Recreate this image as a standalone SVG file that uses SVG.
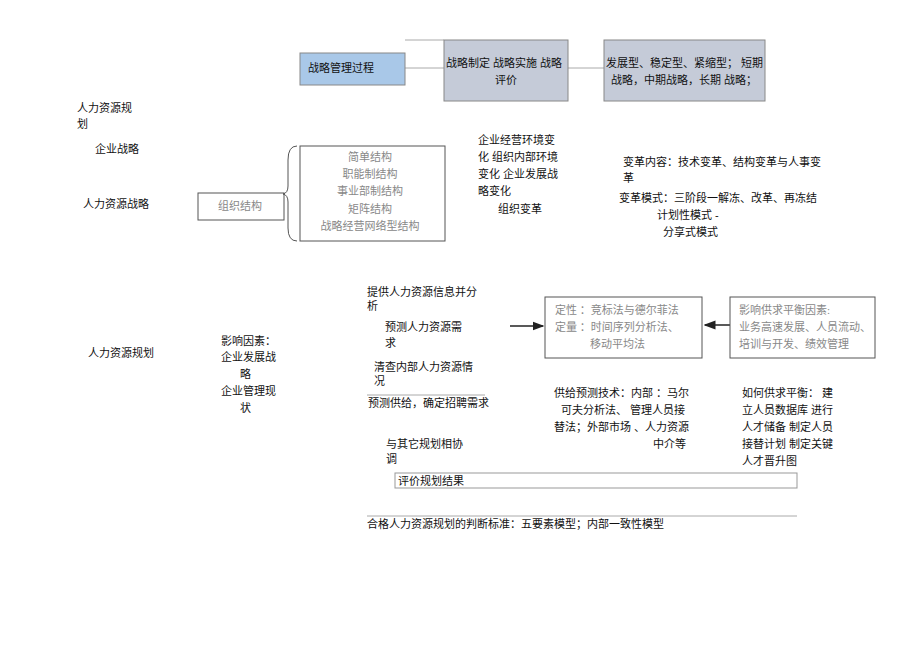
<svg xmlns="http://www.w3.org/2000/svg" width="920" height="650" viewBox="0 0 920 650">
<style>
text{font-family:"Liberation Sans","Noto Sans CJK SC",sans-serif;font-size:11px;fill:#111}
.s{font-family:"Liberation Serif","Noto Sans CJK SC",serif;fill:#888}
.b{fill:none;stroke:#555;stroke-width:1}
.ln{stroke:#aaa;stroke-width:1;fill:none}
</style>
<defs><marker id="ah" markerWidth="8" markerHeight="8" refX="7" refY="4" orient="auto"><path d="M0,1 L8,4 L0,7Z" fill="#222"/></marker></defs>
<rect width="920" height="650" fill="#fff"/>
<g id="connectors">
<line class="ln" x1="405" y1="40" x2="444" y2="40"/>
<line class="ln" x1="405" y1="68" x2="444" y2="68" stroke-width="2"/>
<line class="ln" x1="568" y1="68" x2="604" y2="68" stroke-width="2"/>
<path d="M297,146 Q288,146 288,160 L288,186 Q288,193 283,194 Q288,195 288,202 L288,228 Q288,241 297,241" class="b" stroke="#666"/>
<line x1="510" y1="326" x2="543" y2="326" stroke="#222" stroke-width="1.5" marker-end="url(#ah)"/>
<line x1="730" y1="325" x2="705" y2="325" stroke="#222" stroke-width="1.5" marker-end="url(#ah)"/>
<line class="ln" x1="367" y1="395" x2="485" y2="395"/>
<line class="ln" x1="367" y1="516" x2="797" y2="516"/>
</g>
<g id="n1"><rect x="300" y="53" width="105" height="32" fill="#a9c8e8" stroke="#888"/><text x="308" y="72">战略管理过程</text></g>
<g id="n2"><rect x="444" y="40" width="124" height="61" fill="#c5cbd8" stroke="#888"/><text x="446" y="67">战略制定 战略实施 战略</text><text x="495" y="84">评价</text></g>
<g id="n3"><rect x="604" y="40" width="161" height="61" fill="#c5cbd8" stroke="#888"/><text x="606" y="67">发展型、稳定型、紧缩型； 短期</text><text x="611" y="84">战略，中期战略，长期 战略；</text></g>
<g id="left"><text x="77" y="112">人力资源规</text><text x="77" y="128">划</text><text x="95" y="153">企业战略</text><text x="83" y="208">人力资源战略</text></g>
<g id="n4"><rect x="198" y="193" width="86" height="27" class="b"/><text x="218" y="210" class="s">组织结构</text></g>
<g id="n5"><rect x="300" y="146" width="145" height="95" class="b"/>
<text x="370" y="161" class="s" text-anchor="middle">简单结构</text><text x="370" y="178" class="s" text-anchor="middle">职能制结构</text><text x="370" y="195" class="s" text-anchor="middle">事业部制结构</text><text x="370" y="213" class="s" text-anchor="middle">矩阵结构</text><text x="370" y="230" class="s" text-anchor="middle">战略经营网络型结构</text></g>
<g id="n6"><text x="478" y="144">企业经营环境变</text><text x="478" y="161">化 组织内部环境</text><text x="478" y="178">变化 企业发展战</text><text x="478" y="195">略变化</text><text x="498" y="213">组织变革</text></g>
<g id="n7"><text x="623" y="166">变革内容：技术变革、结构变革与人事变</text><text x="623" y="182">革</text><text x="619" y="202">变革模式：三阶段一解冻、改革、再冻结</text><text x="657" y="219">计划性模式 -</text><text x="663" y="236">分享式模式</text></g>
<g id="n8"><text x="88" y="357">人力资源规划</text><text x="221" y="345">影响因素：</text><text x="221" y="361">企业发展战</text><text x="240" y="378">略</text><text x="221" y="395">企业管理现</text><text x="240" y="412">状</text></g>
<g id="n9"><text x="367" y="296">提供人力资源信息并分</text><text x="367" y="310">析</text><text x="385" y="331">预测人力资源需</text><text x="385" y="347">求</text><text x="374" y="371">清查内部人力资源情</text><text x="374" y="385">况</text><text x="368" y="407">预测供给，确定招聘需求</text><text x="386" y="448">与其它规划相协</text><text x="386" y="463">调</text></g>
<g id="n10"><rect x="395" y="473" width="402" height="15" fill="none" stroke="#999"/><text x="398" y="485">评价规划结果</text></g>
<g id="n11"><text x="367" y="528">合格人力资源规划的判断标准：五要素模型；内部一致性模型</text></g>
<g id="n12"><rect x="545" y="297" width="157" height="61" class="b"/><text x="555" y="314" class="s">定性 ：竞标法与德尔菲法</text><text x="555" y="331" class="s">定量 ：时间序列分析法、</text><text x="590" y="348" class="s">移动平均法</text></g>
<g id="n13"><rect x="730" y="297" width="145" height="61" class="b"/><text x="739" y="314" class="s">影响供求平衡因素:</text><text x="739" y="331" class="s">业务高速发展、人员流动、</text><text x="739" y="348" class="s">培训与开发、绩效管理</text></g>
<g id="n14"><text x="554" y="397">供给预测技术：内部 ：马尔</text><text x="561" y="414">可夫分析法、 管理人员接</text><text x="554" y="431">替法；外部市场 、人力资源</text><text x="653" y="448">中介等</text></g>
<g id="n15"><text x="742" y="397">如何供求平衡： 建</text><text x="742" y="414">立人员数据库 进行</text><text x="742" y="431">人才储备 制定人员</text><text x="742" y="448">接替计划 制定关键</text><text x="742" y="465">人才晋升图</text></g>
</svg>
